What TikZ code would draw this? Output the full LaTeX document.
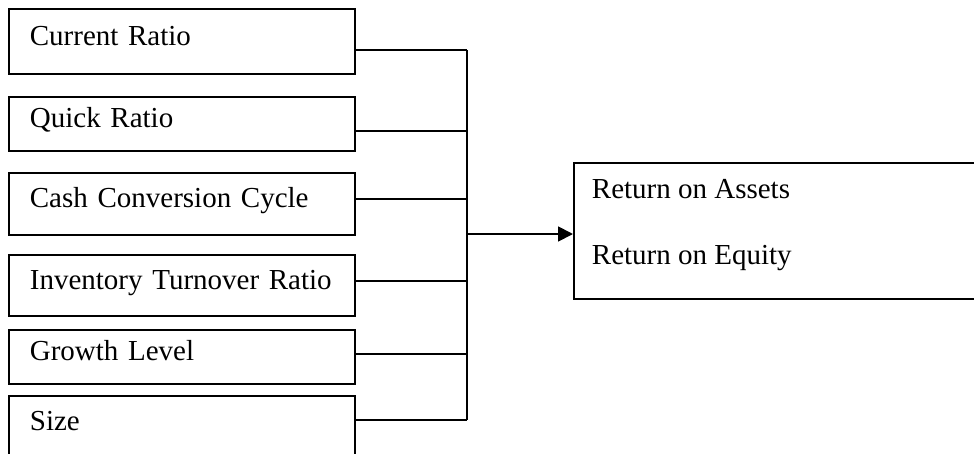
\documentclass[tikz,border=0pt]{standalone}
\usepackage{fontspec}
\setmainfont{Liberation Serif}
\usetikzlibrary{arrows.meta}
\begin{document}
\begin{tikzpicture}
    [x=1pt,y=-1pt,line width=1.8pt,
     font=\fontsize{29}{34}\selectfont,
     factor/.style={draw,anchor=north west,minimum width=346pt,text width=304pt,
       inner xsep=21pt,align=left,text height=20pt,text depth=12pt}]
    \useasboundingbox (0,0) rectangle (974,453);
    \clip (0,0) rectangle (974,453);
    \node (cr) at (8,8) [factor,minimum height=65pt] {Current Ratio};
    \node (qr) at (8,96) [factor,minimum height=54pt] {Quick Ratio};
    \node (ccc) at (8,172) [factor,minimum height=62pt] {Cash Conversion Cycle};
    \node (itr) at (8,254) [factor,minimum height=61pt] {Inventory Turnover Ratio};
    \node (gl) at (8,329) [factor,minimum height=54pt] {Growth Level};
    \node (sz) at (8,395) [factor,minimum height=70pt,text depth=20pt] {Size};
    \node (perf) at (573,162) [draw,anchor=north west,minimum width=450pt,minimum height=136pt] {};
    \node (roa) at (591,198) [anchor=base west,inner sep=0pt] {Return on Assets};
    \node (roe) at (591,264) [anchor=base west,inner sep=0pt] {Return on Equity};
    \coordinate (j1) at (467,50);
    \coordinate (j2) at (467,131);
    \coordinate (j3) at (467,199);
    \coordinate (j4) at (467,281);
    \coordinate (j5) at (467,354);
    \coordinate (j6) at (467,420);
    \coordinate (hub) at (467,234);
    \draw (j1 -| cr.east) -- (j1);
    \draw (j2 -| qr.east) -- (j2);
    \draw (j3 -| ccc.east) -- (j3);
    \draw (j4 -| itr.east) -- (j4);
    \draw (j5 -| gl.east) -- (j5);
    \draw (j6 -| sz.east) -- (j6);
    \draw (j1) -- (j6);
    \draw [-{Triangle[length=15pt,width=15pt]}] (hub) to (hub -| perf.west);
  \end{tikzpicture}
\end{document}
